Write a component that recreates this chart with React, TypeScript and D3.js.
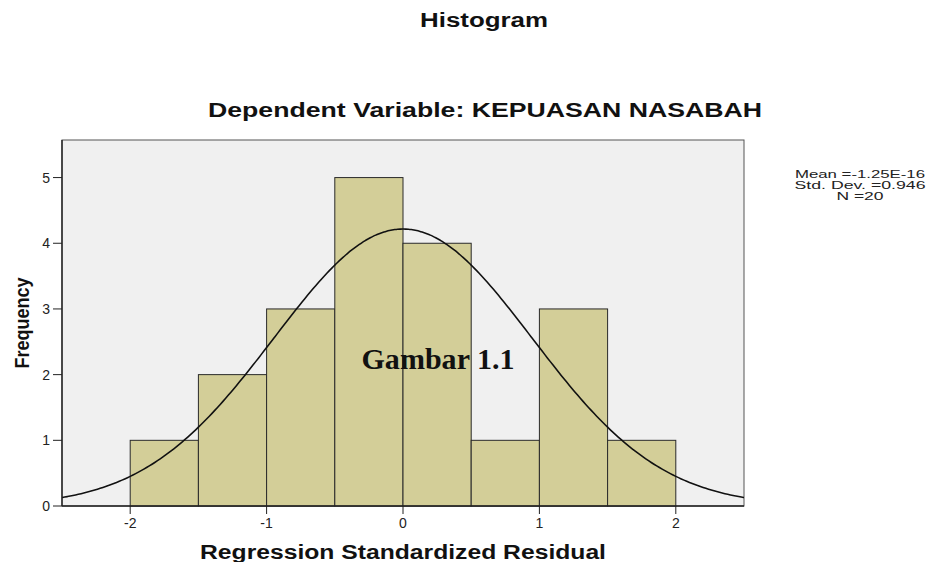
import React from "react";
import * as d3 from "d3";

const binStarts = [-2, -1.5, -1, -0.5, 0, 0.5, 1, 1.5];
const binWidth = 0.5;
const counts = [1, 2, 3, 5, 4, 1, 3, 1];
const xTicks = [-2, -1, 0, 1, 2];
const yTicks = [0, 1, 2, 3, 4, 5];
const statsLines = ["Mean =-1.25E-16", "Std. Dev. =0.946", "N =20"];
const statsWidths = [130, 131, 47];
const meanVal = -1.25e-16;
const sdVal = 0.946;
const nVal = 20;

const W = 931;
const H = 562;
const left = 62;
const right = 744;
const top = 140;
const bottom = 506;

export default function App() {
  const x = d3.scaleLinear().domain([-2.5, 2.5]).range([left, right]);
  const y = d3.scaleLinear().domain([0, 5.572]).range([bottom, top]);

  const pdf = (v: number) =>
    (nVal * binWidth) / (sdVal * Math.sqrt(2 * Math.PI)) *
    Math.exp(-0.5 * Math.pow((v - meanVal) / sdVal, 2));
  const curvePts = d3.range(-2.5, 2.5001, 0.02).map((v) => [v, pdf(v)] as [number, number]);
  const line = d3
    .line<[number, number]>()
    .x((d) => x(d[0]))
    .y((d) => y(d[1]))
    .curve(d3.curveBasis);

  const sans = "'Liberation Sans', Arial, sans-serif";

  return (
    <svg width={W} height={H} style={{ position: "absolute", left: 0, top: 0 }}>
      <rect x={0} y={0} width={W} height={H} fill="#ffffff" />
      <text x={484} y={27} textAnchor="middle" fontFamily={sans} fontWeight="bold" fontSize={20}
        textLength={128} lengthAdjust="spacingAndGlyphs" fill="#111">
        Histogram
      </text>
      <text x={485} y={117} textAnchor="middle" fontFamily={sans} fontWeight="bold" fontSize={20.5}
        textLength={554} lengthAdjust="spacingAndGlyphs" fill="#111">
        Dependent Variable: KEPUASAN NASABAH
      </text>
      <rect x={left} y={top} width={right - left} height={bottom - top} fill="#f0f0f0" stroke="#555" strokeWidth={1} />
      {binStarts.map((b, i) => (
        <rect
          key={i}
          x={x(b)}
          y={y(counts[i])}
          width={x(b + binWidth) - x(b)}
          height={bottom - y(counts[i])}
          fill="#d3ce98"
          stroke="#2a2a2a"
          strokeWidth={1}
        />
      ))}
      <path d={line(curvePts) || ""} fill="none" stroke="#111" strokeWidth={1.6} />
      <line x1={left} y1={top} x2={left} y2={bottom} stroke="#222" strokeWidth={1.4} />
      <line x1={left} y1={bottom} x2={right} y2={bottom} stroke="#222" strokeWidth={1.4} />
      {yTicks.map((t) => (
        <g key={t}>
          <line x1={left - 9} x2={left} y1={y(t)} y2={y(t)} stroke="#222" strokeWidth={1} />
          <text x={left - 12} y={y(t) + 5} textAnchor="end" fontFamily={sans} fontSize={14} fill="#222">
            {t}
          </text>
        </g>
      ))}
      {xTicks.map((t) => (
        <g key={t}>
          <line x1={x(t)} x2={x(t)} y1={bottom} y2={bottom + 8} stroke="#222" strokeWidth={1} />
          <text x={x(t)} y={bottom + 22} textAnchor="middle" fontFamily={sans} fontSize={14} fill="#222">
            {t < 0 ? "-" + Math.abs(t) : String(t)}
          </text>
        </g>
      ))}
      <text x={403} y={559} textAnchor="middle" fontFamily={sans} fontWeight="bold" fontSize={19.5}
        textLength={406} lengthAdjust="spacingAndGlyphs" fill="#111">
        Regression Standardized Residual
      </text>
      <text
        transform={`translate(29,323) rotate(-90)`}
        textAnchor="middle"
        fontFamily={sans}
        fontWeight="bold"
        fontSize={21}
        textLength={91}
        lengthAdjust="spacingAndGlyphs"
        fill="#111"
      >
        Frequency
      </text>
      {statsLines.map((s, i) => (
        <text key={i} x={860} y={178 + i * 11} textAnchor="middle" fontFamily={sans} fontSize={11.5}
          textLength={statsWidths[i]} lengthAdjust="spacingAndGlyphs" fill="#222">
          {s}
        </text>
      ))}
      <text x={438} y={369} textAnchor="middle" fontFamily="'Liberation Serif', serif" fontWeight="bold" fontSize={30}
        textLength={153} lengthAdjust="spacingAndGlyphs" fill="#111">
        Gambar 1.1
      </text>
    </svg>
  );
}
